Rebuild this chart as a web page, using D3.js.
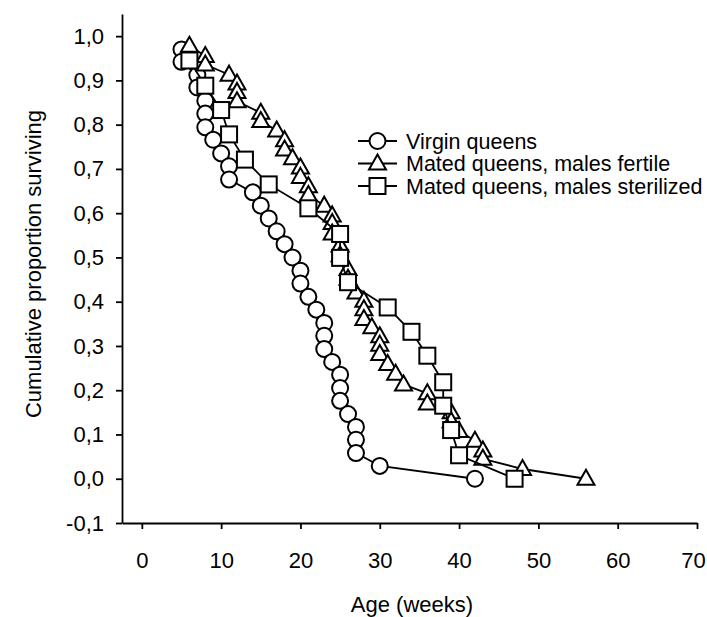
<!DOCTYPE html>
<html>
<head>
<meta charset="utf-8">
<script src="https://cdn.jsdelivr.net/npm/d3@7/dist/d3.min.js"></script>
<style>
  html, body { margin: 0; padding: 0; background: #fff; }
  svg { display: block; font-family: "Liberation Sans", Arial, sans-serif; }
</style>
</head>
<body>
<div id="chart"></div>
<script>
// Survival of queens: cumulative proportion surviving vs age (weeks)

// virgin queens (circles)
const virginAge = [5, 5, 7, 7, 8, 8, 8, 9, 10, 11, 11, 14, 15, 16, 17, 18, 19, 20, 20, 21, 22, 23, 23, 23, 24, 25, 25, 25, 26, 27, 27, 27, 30, 42];
const virginSurv = [0.970, 0.942, 0.912, 0.884, 0.854, 0.825, 0.794, 0.766, 0.735, 0.706, 0.676, 0.647, 0.617, 0.588, 0.559, 0.530, 0.500, 0.470, 0.441, 0.411, 0.382, 0.352, 0.323, 0.293, 0.264, 0.235, 0.205, 0.176, 0.146, 0.117, 0.088, 0.058, 0.029, 0.000];

// mated queens, males fertile (triangles)
const fertileAge = [6, 8, 8, 11, 12, 12, 12, 15, 15, 17, 18, 18, 19, 20, 20, 21, 21, 23, 24, 24, 24, 25, 25, 26, 26, 27, 28, 28, 28, 29, 30, 30, 30, 31, 32, 33, 36, 36, 39, 39, 40, 42, 43, 43, 48, 56];
const fertileSurv = [0.978, 0.955, 0.936, 0.913, 0.893, 0.874, 0.853, 0.827, 0.808, 0.787, 0.765, 0.744, 0.724, 0.703, 0.682, 0.661, 0.641, 0.617, 0.595, 0.578, 0.554, 0.527, 0.505, 0.474, 0.452, 0.421, 0.402, 0.383, 0.361, 0.342, 0.322, 0.303, 0.282, 0.259, 0.237, 0.213, 0.193, 0.170, 0.150, 0.130, 0.108, 0.086, 0.064, 0.045, 0.022, 0.000];

// mated queens, males sterilized (squares)
const sterileAge = [6, 8, 10, 11, 13, 16, 21, 25, 25, 26, 31, 34, 36, 38, 38, 39, 40, 47];
const sterileSurv = [0.945, 0.888, 0.833, 0.778, 0.721, 0.665, 0.611, 0.553, 0.499, 0.444, 0.387, 0.332, 0.278, 0.218, 0.165, 0.110, 0.053, 0.000];

const xTicks = [0, 10, 20, 30, 40, 50, 60, 70];
const yTicks = [-0.1, 0, 0.1, 0.2, 0.3, 0.4, 0.5, 0.6, 0.7, 0.8, 0.9, 1.0];
const seriesNames = ["Virgin queens", "Mated queens, males fertile", "Mated queens, males sterilized"];
const seriesShapes = ["circle", "triangle", "square"];

const width = 707;
const height = 617;
const fontSize = 22;

const svg = d3.select("#chart").append("svg")
  .attr("width", width)
  .attr("height", height);

const x = d3.scaleLinear().domain([-2.5, 70]).range([122, 697]);
const y = d3.scaleLinear().domain([-0.1, 1.05]).range([523, 14]);

// comma as decimal separator
const fmtY = (d) => d3.format(".1f")(d).replace(".", ",").replace("−", "-");

// Axes
const xAxis = svg.append("g")
  .attr("transform", `translate(0,${y(-0.1)})`)
  .call(d3.axisBottom(x).tickValues(xTicks).tickSize(6).tickSizeOuter(0).tickPadding(23));

const yAxis = svg.append("g")
  .attr("transform", `translate(${x(-2.5)},0)`)
  .call(d3.axisLeft(y).tickValues(yTicks).tickSize(6).tickSizeOuter(0).tickPadding(12).tickFormat(fmtY));

[xAxis, yAxis].forEach((ax) => {
  ax.select(".domain").attr("stroke", "#000").attr("stroke-width", 1.8);
  ax.selectAll(".tick line").attr("stroke", "#000").attr("stroke-width", 1.8);
  ax.selectAll(".tick text")
    .attr("fill", "#000")
    .style("font-size", fontSize + "px")
    .style("font-family", '"Liberation Sans", Arial, sans-serif');
});

// last x label sits at the right edge, pull it in a little
xAxis.selectAll(".tick text").filter((d) => d === 70).attr("dx", "-4");

// Axis titles
svg.append("text")
  .attr("x", 412)
  .attr("y", 612)
  .attr("text-anchor", "middle")
  .style("font-size", fontSize + "px")
  .text("Age (weeks)");

svg.append("text")
  .attr("transform", `translate(41,264) rotate(-90)`)
  .attr("text-anchor", "middle")
  .style("font-size", fontSize + "px")
  .text("Cumulative proportion surviving");

// Marker drawing
function drawMarker(sel, shape) {
  if (shape === "circle") {
    sel.append("circle").attr("r", 8);
  } else if (shape === "triangle") {
    sel.append("path").attr("d", "M0,-9L8.5,6L-8.5,6Z");
  } else {
    sel.append("rect").attr("x", -8).attr("y", -8).attr("width", 16).attr("height", 16);
  }
  sel.selectAll("circle,path,rect")
    .attr("fill", "#fff")
    .attr("stroke", "#000")
    .attr("stroke-width", 2);
}

const series = [
  { age: virginAge, surv: virginSurv },
  { age: fertileAge, surv: fertileSurv },
  { age: sterileAge, surv: sterileSurv },
];

const line = d3.line().x((d) => x(d[0])).y((d) => y(d[1]));

series.forEach((s, i) => {
  const pts = s.age.map((a, j) => [a, s.surv[j]]);
  const g = svg.append("g");
  g.append("path")
    .datum(pts)
    .attr("d", line)
    .attr("fill", "none")
    .attr("stroke", "#000")
    .attr("stroke-width", 1.8);
  g.selectAll("g.pt")
    .data(pts)
    .join("g")
    .attr("class", "pt")
    .attr("transform", (d) => `translate(${x(d[0])},${y(d[1])})`)
    .each(function () { drawMarker(d3.select(this), seriesShapes[i]); });
});

// Legend
const legend = svg.append("g").attr("transform", "translate(358,141)");
seriesNames.forEach((name, i) => {
  const row = legend.append("g").attr("transform", `translate(0,${i * 22.5})`);
  row.append("line")
    .attr("x1", 0).attr("x2", 39)
    .attr("stroke", "#000").attr("stroke-width", 1.8);
  const m = row.append("g").attr("transform", "translate(19.5,0)");
  drawMarker(m, seriesShapes[i]);
  row.append("text")
    .attr("x", 48)
    .attr("dy", "0.35em")
    .style("font-size", "21.5px")
    .text(name);
});
</script>
</body>
</html>
